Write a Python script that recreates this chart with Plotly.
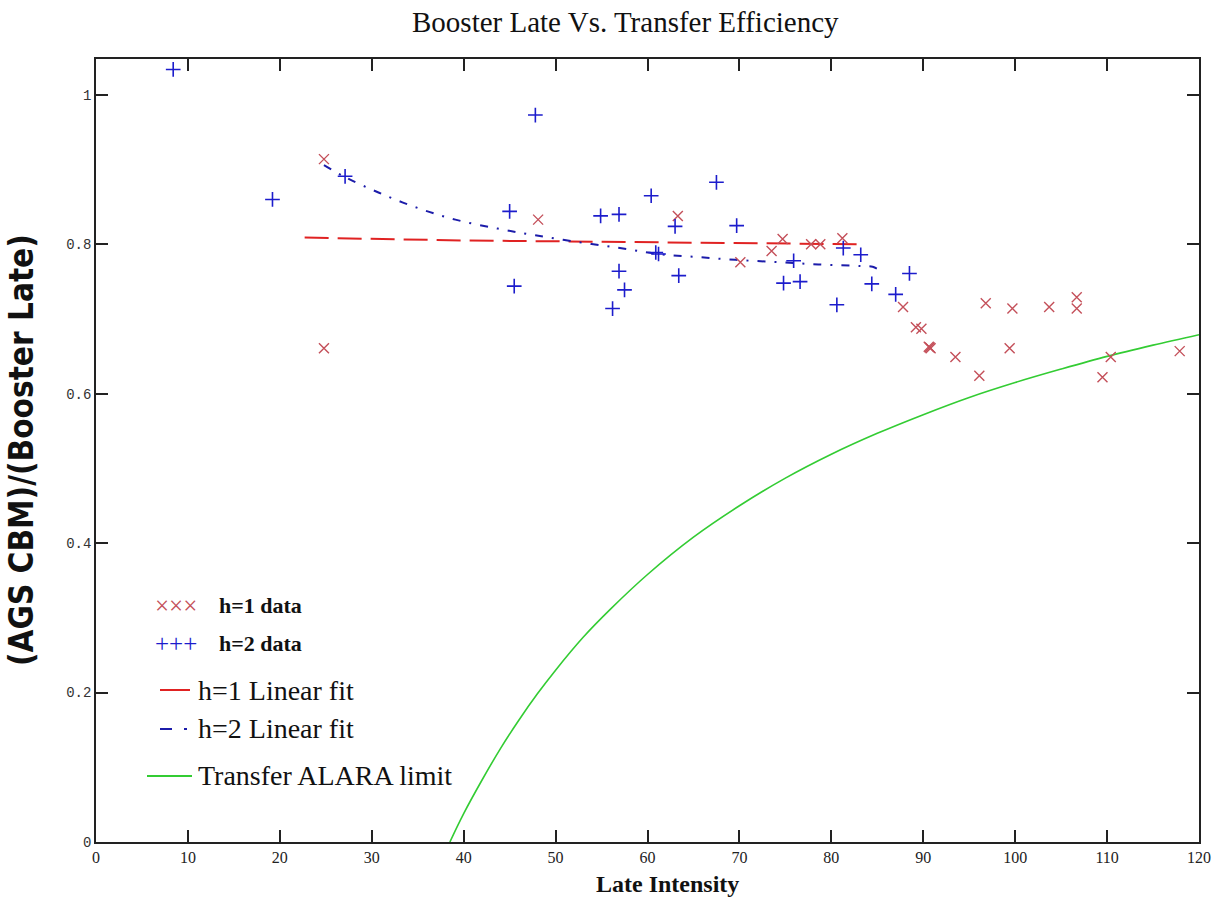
import plotly.graph_objects as go

# ---------------- data ----------------
h1_x = [24.8, 24.8, 48.1, 63.3, 70.1, 73.5, 74.7, 77.8, 78.8, 81.2, 87.8, 89.2, 89.8,
        90.6, 90.7, 90.8, 93.5, 96.1, 96.8, 99.7, 99.4, 103.7, 106.7, 106.7, 109.5, 110.4, 117.9]
h1_y = [0.914, 0.661, 0.833, 0.838, 0.776, 0.791, 0.807, 0.800, 0.800, 0.808, 0.716, 0.689, 0.687,
        0.663, 0.662, 0.661, 0.649, 0.624, 0.721, 0.714, 0.661, 0.716, 0.729, 0.714, 0.622, 0.649, 0.657]

h2_x = [8.4, 19.2, 27.1, 45.0, 45.5, 47.8, 54.9, 56.9, 56.2, 56.9, 57.5, 60.4, 60.9, 61.2,
        63.0, 63.4, 67.5, 69.7, 74.8, 75.9, 76.6, 80.6, 81.3, 83.2, 84.4, 87.0, 88.5]
h2_y = [1.034, 0.860, 0.891, 0.844, 0.744, 0.973, 0.838, 0.840, 0.714, 0.764, 0.739, 0.865, 0.789, 0.787,
        0.824, 0.758, 0.883, 0.825, 0.748, 0.778, 0.750, 0.719, 0.795, 0.786, 0.747, 0.733, 0.761]

fit1_x = [22.7, 30, 40, 50, 60, 70, 83.3]
fit1_y = [0.809, 0.807, 0.805, 0.804, 0.803, 0.801, 0.800]

fit2_x = [24.8, 27.1, 30.8, 34.9, 39.1, 43.7, 47.8, 52.4, 57.0, 61.2, 65.4, 69.8, 74.3, 78.6, 83.1, 84.5, 85.4]
fit2_y = [0.906, 0.890, 0.869, 0.849, 0.833, 0.821, 0.812, 0.803, 0.795, 0.787, 0.783, 0.779, 0.776,
          0.773, 0.771, 0.770, 0.764]

alara_x = [38.5, 40, 42, 44, 46, 48, 50, 53, 56, 60, 65, 70, 75, 80, 85, 90, 95, 100, 105, 110, 115, 120]
alara_y = [0.000, 0.038, 0.083, 0.125, 0.163, 0.198, 0.230, 0.274, 0.312, 0.358, 0.408, 0.450, 0.487,
           0.519, 0.547, 0.572, 0.595, 0.615, 0.633, 0.650, 0.665, 0.679]

x_ticks = [0, 10, 20, 30, 40, 50, 60, 70, 80, 90, 100, 110, 120]
y_ticks = [0, 0.2, 0.4, 0.6, 0.8, 1]
y_tick_text = ["0", "0.2", "0.4", "0.6", "0.8", "1"]

title_text = "Booster Late Vs. Transfer Efficiency"
x_title = "Late Intensity"
y_title = "(AGS CBM)/(Booster Late)"
legend_labels = ["h=1 data", "h=2 data", "h=1 Linear fit", "h=2 Linear fit", "Transfer ALARA limit"]

# ---------------- colours / styles ----------------
C_H1 = "#c4505a"
C_H2 = "#1c1ccc"
C_FIT1 = "#e02222"
C_FIT2 = "#1c1caa"
C_ALARA = "#33cc33"
SERIF = "Liberation Serif, Times New Roman, serif"

W, H = 1222, 897
L, R, T, B = 96, 23, 59, 55
PW, PH = W - L - R, H - T - B


def px(xpix):
    return (xpix - L) / PW


def py(ypix):
    return (H - B - ypix) / PH


fig = go.Figure()

fig.add_trace(go.Scatter(x=alara_x, y=alara_y, mode="lines", line=dict(color=C_ALARA, width=1.6, shape="spline"),
                         name=legend_labels[4]))
fig.add_trace(go.Scatter(x=fit1_x, y=fit1_y, mode="lines", line=dict(color=C_FIT1, width=2, dash="24px,9px"),
                         name=legend_labels[2]))
fig.add_trace(go.Scatter(x=fit2_x, y=fit2_y, mode="lines",
                         line=dict(color=C_FIT2, width=2, dash="8px,9px,2px,9px", shape="spline"),
                         name=legend_labels[3]))
fig.add_trace(go.Scatter(x=h1_x, y=h1_y, mode="markers",
                         marker=dict(symbol="x-thin-open", size=10, color=C_H1, line=dict(color=C_H1, width=1.4)),
                         name=legend_labels[0]))
fig.add_trace(go.Scatter(x=h2_x, y=h2_y, mode="markers",
                         marker=dict(symbol="cross-thin-open", size=10.5, color=C_H2, line=dict(color=C_H2, width=1.6)),
                         name=legend_labels[1]))

axis_common = dict(showgrid=False, zeroline=False, showline=True, linecolor="#222", linewidth=1.5,
                   ticks="inside", ticklen=12, tickwidth=1.5, tickcolor="#222", mirror="ticks")

fig.update_xaxes(range=[0, 120], tickvals=x_ticks, ticktext=[str(v) for v in x_ticks],
                 tickfont=dict(family=SERIF, size=16, color="#222"), **axis_common)
fig.update_yaxes(range=[0, 1.048], tickvals=y_ticks, ticktext=y_tick_text,
                 tickfont=dict(family="Liberation Mono, DejaVu Sans Mono, monospace", size=14, color="#333"),
                 **axis_common)

ann = []
ann.append(dict(text=title_text, xref="paper", yref="paper", x=px(625), y=py(22), xanchor="center",
                yanchor="middle", showarrow=False, font=dict(family=SERIF, size=29, color="#111")))
ann.append(dict(text="<b>" + x_title + "</b>", xref="paper", yref="paper", x=px(667), y=py(884),
                xanchor="center", yanchor="middle", showarrow=False, font=dict(family=SERIF, size=24, color="#111")))
ann.append(dict(text="<b>" + y_title + "</b>", xref="paper", yref="paper", x=px(21), y=py(450),
                xanchor="center", yanchor="middle", textangle=-90, showarrow=False,
                font=dict(family="DejaVu Sans Condensed, Liberation Sans Narrow, sans-serif",
                          size=33, color="#111")))

# legend (drawn manually, inside the plot, lower left)
ann.append(dict(text="×××", xref="paper", yref="paper", x=px(176), y=py(605), xanchor="center", yanchor="middle",
                showarrow=False, font=dict(family=SERIF, size=25, color=C_H1)))
ann.append(dict(text="+++", xref="paper", yref="paper", x=px(176), y=py(643), xanchor="center", yanchor="middle",
                showarrow=False, font=dict(family=SERIF, size=25, color=C_H2)))
for lab, ypix in [(legend_labels[0], 605), (legend_labels[1], 643)]:
    ann.append(dict(text="<b>" + lab + "</b>", xref="paper", yref="paper", x=px(217), y=py(ypix), xanchor="left",
                    yanchor="middle", showarrow=False, font=dict(family=SERIF, size=22, color="#111")))
for lab, ypix in [(legend_labels[2], 690), (legend_labels[3], 728), (legend_labels[4], 775)]:
    ann.append(dict(text=lab, xref="paper", yref="paper", x=px(196), y=py(ypix), xanchor="left",
                    yanchor="middle", showarrow=False, font=dict(family=SERIF, size=28, color="#111")))

shapes = [
    dict(type="line", xref="paper", yref="paper", x0=px(160), x1=px(190), y0=py(690), y1=py(690),
         line=dict(color=C_FIT1, width=2)),
    dict(type="line", xref="paper", yref="paper", x0=px(160), x1=px(172), y0=py(729), y1=py(729),
         line=dict(color=C_FIT2, width=2)),
    dict(type="line", xref="paper", yref="paper", x0=px(184), x1=px(187), y0=py(729), y1=py(729),
         line=dict(color=C_FIT2, width=2)),
    dict(type="line", xref="paper", yref="paper", x0=px(147), x1=px(192), y0=py(776), y1=py(776),
         line=dict(color=C_ALARA, width=1.8)),
]

fig.update_layout(width=W, height=H, margin=dict(l=L, r=R, t=T, b=B), paper_bgcolor="white",
                  plot_bgcolor="white", showlegend=False, annotations=ann, shapes=shapes)

fig.write_html("out.html", config={"displayModeBar": False},
               post_script="document.body.style.margin='0';document.body.style.overflow='hidden';")
